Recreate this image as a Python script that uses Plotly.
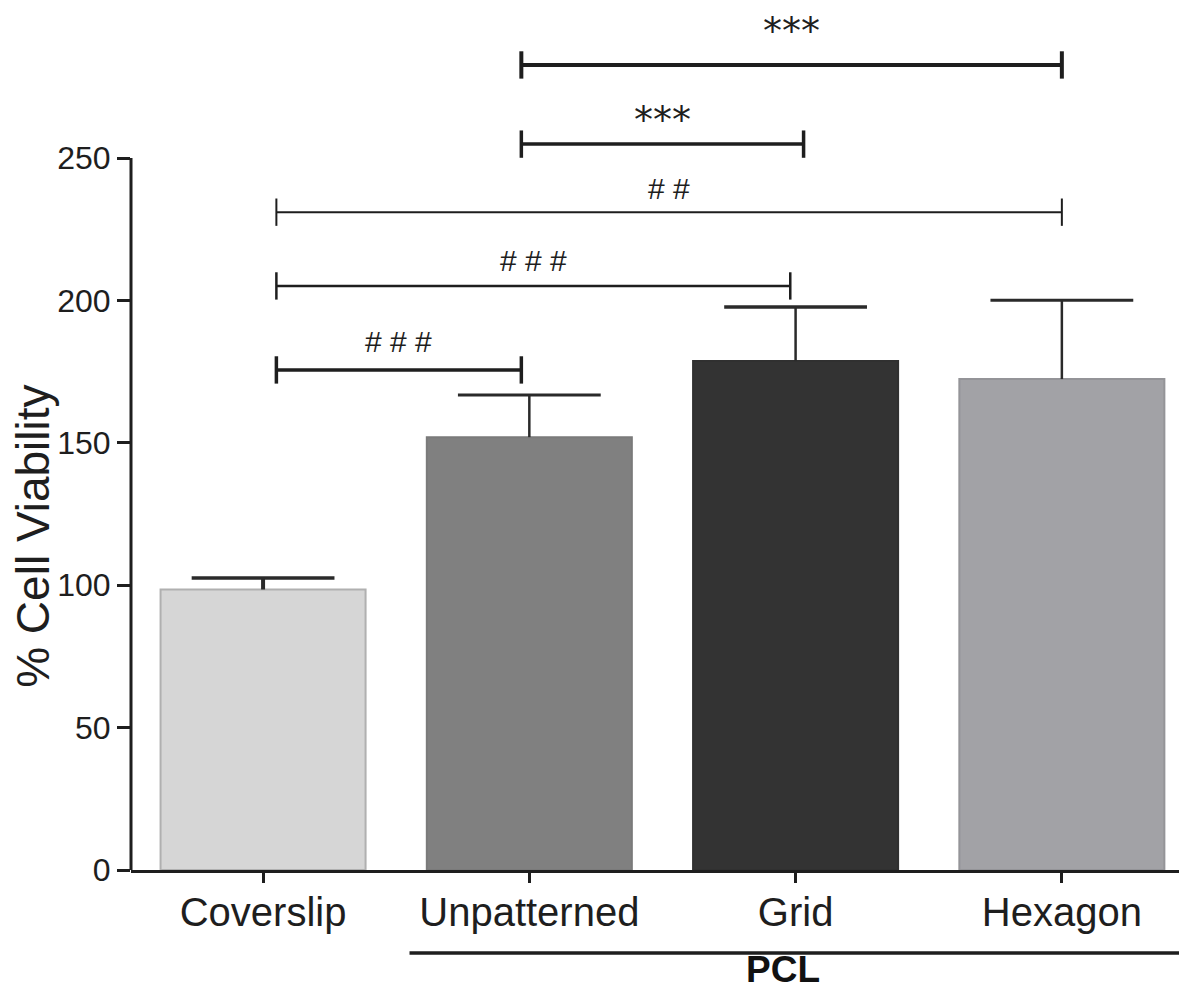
import plotly.graph_objects as go

# ---- data ----
categories = ["Coverslip", "Unpatterned", "Grid", "Hexagon"]
viability = [98.5, 152.0, 178.7, 172.4]
sem = [4.0, 14.8, 19.0, 27.7]
bar_colors = ["#d6d6d6", "#808080", "#333333", "#a2a2a6"]
bar_edges = ["#b0b0b0", "#7a7a7a", "#303030", "#949498"]
stem_thickness = [4, 2.5, 2.5, 2.5]
cap_thickness = [3.5, 3, 3.5, 3]

y_ticks = [0, 50, 100, 150, 200, 250]

# significance brackets (x in category-index units, y in % viability)
bracket_x0 = [0.05, 0.05, 0.05, 0.97, 0.97]
bracket_x1 = [0.97, 1.98, 3.0, 2.03, 3.0]
bracket_y = [175.6, 205.1, 231.0, 254.9, 282.7]
bracket_labels = ["# # #", "# # #", "# #", "***", "***"]
bracket_lw = [3.5, 2.5, 2, 3.5, 4]
bracket_tick = 4.8
label_shift = [10, 7, 5, 14, 24]

group_label = "PCL"
group_x0, group_x1 = 0.55, 3.455

pos = list(range(len(categories)))
tops = [v + s for v, s in zip(viability, sem)]

fig = go.Figure()
for i, c in enumerate(categories):
    fig.add_trace(go.Bar(
        x=[pos[i]], y=[viability[i]], width=0.77,
        marker=dict(color=bar_colors[i], line=dict(color=bar_edges[i], width=2)),
        error_y=dict(type="data", array=[sem[i]], arrayminus=[0], symmetric=False,
                     color="#2a2a2a", thickness=stem_thickness[i], width=0),
        showlegend=False, name=c,
    ))

# error-bar caps
fig.add_trace(go.Scatter(
    x=pos, y=tops, mode="markers", showlegend=False, hoverinfo="skip",
    marker=dict(symbol="line-ew", size=102, color="#2a2a2a",
                line=dict(color="#2a2a2a", width=cap_thickness)),
))

for x0, x1, yv, lab, lw, sh in zip(bracket_x0, bracket_x1, bracket_y, bracket_labels, bracket_lw, label_shift):
    fig.add_trace(go.Scatter(
        x=[x0, x0, None, x0, x1, None, x1, x1],
        y=[yv - bracket_tick, yv + bracket_tick, None, yv, yv, None, yv - bracket_tick, yv + bracket_tick],
        mode="lines", line=dict(color="#1e1e1e", width=lw), showlegend=False, hoverinfo="skip",
    ))
    is_star = "*" in lab
    fig.add_annotation(
        x=(x0 + x1) / 2, y=yv, xref="x", yref="y", text=lab, showarrow=False,
        yanchor="bottom", yshift=sh - (14 if is_star else 0),
        font=dict(family="DejaVu Sans" if is_star else "Liberation Sans",
                  size=38 if is_star else 30, color="#1e1e1e"),
    )

# y axis line only up to 250
fig.add_shape(type="line", xref="paper", yref="y", x0=0, x1=0, y0=0, y1=y_ticks[-1],
              line=dict(color="#1e1e1e", width=3))

# PCL group line and label
fig.add_shape(type="line", xref="x", yref="paper", x0=group_x0, x1=group_x1, y0=-0.0963, y1=-0.0963,
              line=dict(color="#1e1e1e", width=3.5))
fig.add_annotation(x=(group_x0 + group_x1) / 2 - 0.05, y=-0.116, xref="x", yref="paper",
                   text="<b>" + group_label + "</b>",
                   showarrow=False, yanchor="middle",
                   font=dict(family="Liberation Sans", size=37, color="#111111"))

# y title
fig.add_annotation(x=-0.0928, y=117, xref="paper", yref="y", text="% Cell Viability", textangle=-90,
                   showarrow=False, xanchor="center", yanchor="middle",
                   font=dict(family="Liberation Sans", size=46, color="#1e1e1e"))

fig.update_layout(
    width=1179, height=986,
    margin=dict(l=123, r=0, t=0, b=124),
    paper_bgcolor="white", plot_bgcolor="white",
    barmode="overlay",
    font=dict(family="Liberation Sans", color="#1e1e1e"),
    xaxis=dict(range=[-0.496, 3.47], tickvals=pos, ticktext=categories,
               showline=True, linecolor="#1e1e1e", linewidth=3,
               ticks="outside", ticklen=10, tickwidth=3, tickcolor="#1e1e1e",
               ticklabelstandoff=-5,
               tickfont=dict(size=40, family="Liberation Sans", color="#1e1e1e"),
               showgrid=False, zeroline=False),
    yaxis=dict(range=[0, 302.7], tickvals=y_ticks, showline=False,
               ticks="outside", ticklen=13, tickwidth=3, tickcolor="#1e1e1e",
               tickfont=dict(size=32, family="Liberation Sans", color="#1e1e1e"),
               showgrid=False, zeroline=False),
)

fig.write_html("out.html")
